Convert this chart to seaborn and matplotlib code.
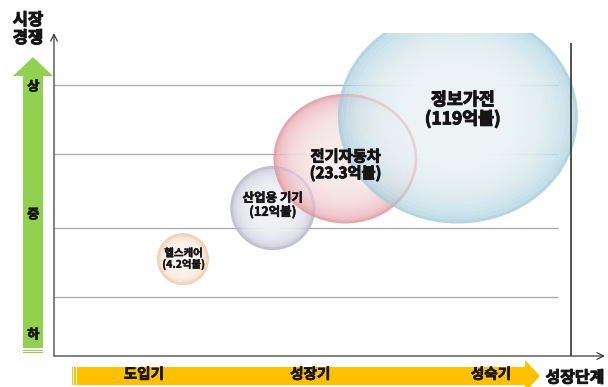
import numpy as np
import pandas as pd
import matplotlib
matplotlib.use("Agg")
import matplotlib.pyplot as plt
import matplotlib.patheffects as pe
import seaborn as sns
from matplotlib.path import Path
from matplotlib.transforms import Affine2D
from matplotlib.patches import Polygon, Rectangle

# ---------------- data ----------------
names = ["헬스케어", "산업용 기기", "전기자동차", "정보가전"]
market_size = [4.2, 12, 23.3, 119]          # 억불
stage_pos = [2.34, 3.97, 5.29, 7.33]        # 성장단계 (x)
competition = [3.00, 4.58, 6.11, 7.41]      # 시장경쟁 (y)
stage_labels = ["도입기", "성장기", "성숙기"]
stage_ticks = [1.63, 4.65, 7.93]
level_labels = ["상", "중", "하"]
level_ticks = [8.39, 4.43, 0.71]
grid_levels = [8.39, 6.25, 3.96, 1.83]

# ---------------- style ----------------
sns.set_theme(style="white")
plt.rcParams["font.family"] = ["Noto Sans CJK KR", "DejaVu Sans"]

bubble_radius_px = {4.2: 26, 12: 42.5, 23.3: 72, 119: 120}
bubble_aspect = {4.2: 1.0, 12: 0.99, 23.3: 0.9, 119: 0.89}
edge_cols = {4.2: "#efc6a6", 12: "#b3b3ca", 23.3: "#e3939e", 119: "#a6cddb"}
center_cols = {4.2: "#fffaf6", 12: "#f7f7fa", 23.3: "#fcf0f1", 119: "#f3f9fb"}
label_fs = {4.2: 7.5, 12: 9, 23.3: 11, 119: 12.5}
label_off = {4.2: (0.5, 0), 12: (0, 2), 23.3: (0, -4.5), 119: (3.6, 5)}
label_stroke = {4.2: 0.3, 12: 0.4, 23.3: 0.7, 119: 0.8}
txt_col = "#151515"

def bold_fx(w=0.7, c=txt_col):
    return [pe.withStroke(linewidth=w, foreground=c)]

W, H = 608, 387
fig = plt.figure(figsize=(W / 100, H / 100), dpi=100)
fig.patch.set_facecolor("white")

deco = fig.add_axes([0, 0, 1, 1], zorder=0)
deco.set_xlim(0, W)
deco.set_ylim(H, 0)
deco.axis("off")

ax = fig.add_axes([54 / W, 1 - 356 / H, (605 - 54) / W, (356 - 33) / H], zorder=1)
ax.patch.set_alpha(0)
ax.set_xlim(0, 10)
ax.set_ylim(0, 10)
for sp in ax.spines.values():
    sp.set_visible(False)

df = pd.DataFrame({"name": names, "market": market_size,
                   "stage": stage_pos, "competition": competition})

# grid lines and end line
ax.hlines(grid_levels, 0, 9.15, color="#a8a8a8", lw=0.9, zorder=1)
ax.vlines(9.38, 0, 9.69, color="#333333", lw=1.2, zorder=6)

# axes arrows
arr = dict(arrowstyle="->", color="#3a3a3a", lw=0.9, shrinkA=0, shrinkB=0)
ax.annotate("", xy=(0, 1), xytext=(0, 0), xycoords="axes fraction",
            arrowprops=arr, annotation_clip=False, zorder=7)
ax.annotate("", xy=(1, 0), xytext=(0, 0), xycoords="axes fraction",
            arrowprops=arr, annotation_clip=False, zorder=7)

# bubbles
def pts_area(r_px, f=1.0):
    d = 2 * r_px * f * 72 / 100
    return d * d

layers = np.linspace(0.97, 0.35, 18)
for i, row in df.iterrows():
    v = row["market"]
    mk = Path.unit_circle().transformed(Affine2D().scale(1, bubble_aspect[v]))
    sub = df.iloc[[i]]
    sns.scatterplot(data=sub, x="stage", y="competition", s=pts_area(bubble_radius_px[v]),
                    marker=mk, color=edge_cols[v], alpha=0.72, linewidth=0,
                    edgecolor="none", legend=False, ax=ax, zorder=2 + i * 0.1)
    for f in layers:
        sns.scatterplot(data=sub, x="stage", y="competition",
                        s=pts_area(bubble_radius_px[v], f), marker=mk,
                        color=center_cols[v], alpha=0.15, linewidth=0,
                        edgecolor="none", legend=False, ax=ax, zorder=2 + i * 0.1)
# faint see-through rims
for i, row in df.iterrows():
    v = row["market"]
    mk = Path.unit_circle().transformed(Affine2D().scale(1, bubble_aspect[v]))
    sns.scatterplot(data=df.iloc[[i]], x="stage", y="competition",
                    s=pts_area(bubble_radius_px[v] - 1.5), marker=mk,
                    facecolor="none", edgecolor=edge_cols[v], linewidth=2.0,
                    alpha=0.35, legend=False, ax=ax, zorder=3)

# labels inside bubbles
for i, row in df.iterrows():
    v = row["market"]
    ax.annotate(f"{row['name']}\n({v:g}억불)", xy=(row["stage"], row["competition"]),
                xytext=label_off[v], textcoords="offset points", ha="center",
                va="center", fontsize=label_fs[v], fontweight="bold",
                color=txt_col, linespacing=1.05, zorder=8,
                path_effects=bold_fx(label_stroke[v]))

# ticks
ax.set_xticks(stage_ticks, stage_labels)
ax.set_yticks(level_ticks, level_labels)
ax.tick_params(axis="x", length=0, pad=7, labelsize=10.5, labelcolor=txt_col)
ax.tick_params(axis="y", length=0, pad=10.5, labelsize=9.5, labelcolor=txt_col)
for t in ax.get_xticklabels() + ax.get_yticklabels():
    t.set_fontweight("bold")
    t.set_path_effects(bold_fx(0.5))
ax.set_xlabel("")
ax.set_ylabel("")

# decorations: green arrow (left) and yellow arrow (bottom)
green = "#92d050"
deco.add_patch(Polygon([(23, 348), (23, 76), (13, 76), (33, 57), (53, 76), (43, 76), (43, 348)],
                       closed=True, fc=green, ec="none"))
deco.add_patch(Rectangle((23, 349.5), 20, 1.2, fc=green, ec="none"))
deco.add_patch(Rectangle((23, 352), 20, 1.2, fc=green, ec="none"))

yellow = "#ffc000"
deco.add_patch(Polygon([(77, 367), (525, 367), (525, 360), (540, 376), (525, 392), (525, 385), (77, 385)],
                       closed=True, fc=yellow, ec="none"))
deco.add_patch(Rectangle((71.7, 367), 1.6, 18, fc=yellow, ec="none"))
deco.add_patch(Rectangle((74.3, 367), 1.7, 18, fc=yellow, ec="none"))

deco.text(28, 29, "시장\n경쟁", ha="center", va="center", fontsize=12,
          fontweight="bold", color=txt_col, linespacing=1.0,
          path_effects=bold_fx(0.7))
deco.text(575, 377.5, "성장단계", ha="center", va="center", fontsize=11.5,
          fontweight="bold", color=txt_col, path_effects=bold_fx(0.7))

fig.savefig("out.png", dpi=100)
